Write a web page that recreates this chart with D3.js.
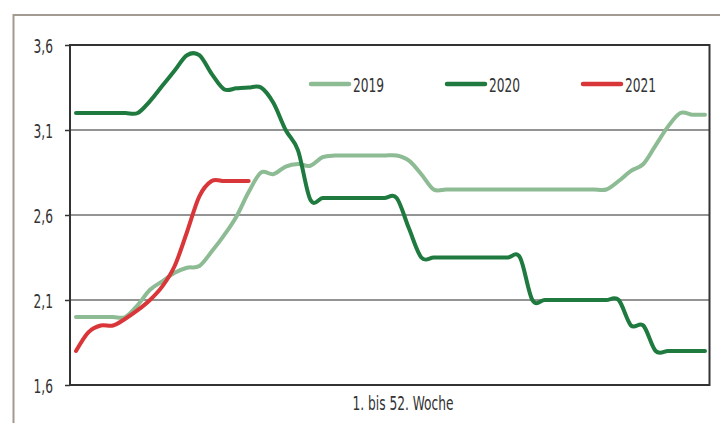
<!DOCTYPE html>
<html>
<head>
<meta charset="utf-8">
<script src="https://cdn.jsdelivr.net/npm/d3@7"></script>
<style>
	html, body { margin: 0; padding: 0; background: #fff; }
	svg { display: block; }
	text { font-family: "Liberation Sans Narrow", "DejaVu Sans Condensed", "Arial Narrow", sans-serif; fill: #333; }
</style>
</head>
<body>
<div id="container"></div>
<script>
// ==============
//	DATA
// ==============

var seriesNames = ["2019", "2020", "2021"];

var yTicks = [1.6, 2.1, 2.6, 3.1, 3.6];

// one value per week (1 .. 52)
var v2019 = [2.0, 2.0, 2.0, 2.0, 2.0, 2.07, 2.16, 2.21, 2.26, 2.29,
	2.3, 2.385, 2.48, 2.59, 2.735, 2.85, 2.84, 2.885, 2.9, 2.89,
	2.94, 2.95, 2.95, 2.95, 2.95, 2.95, 2.95, 2.92, 2.84, 2.75,
	2.75, 2.75, 2.75, 2.75, 2.75, 2.75, 2.75, 2.75, 2.75, 2.75,
	2.75, 2.75, 2.75, 2.75, 2.8, 2.86, 2.9, 3.01, 3.12, 3.2,
	3.19, 3.19];

var v2020 = [3.2, 3.2, 3.2, 3.2, 3.2, 3.2, 3.27, 3.36, 3.45, 3.54,
	3.54, 3.43, 3.34, 3.345, 3.35, 3.35, 3.26, 3.1, 2.98, 2.69,
	2.7, 2.7, 2.7, 2.7, 2.7, 2.7, 2.7, 2.52, 2.35, 2.35,
	2.35, 2.35, 2.35, 2.35, 2.35, 2.35, 2.35, 2.1, 2.1, 2.1,
	2.1, 2.1, 2.1, 2.1, 2.1, 1.95, 1.95, 1.8, 1.8, 1.8,
	1.8, 1.8];

var v2021 = [1.8, 1.91, 1.95, 1.95, 1.99, 2.04, 2.1, 2.18, 2.3, 2.5,
	2.71, 2.8, 2.8, 2.8, 2.8];

var xLabel = "1. bis 52. Woche";

// ==============
//	OPTIONS
// ==============

var width = 720, height = 423,
	plot = {left: 70, right: 709.5, top: 45, bottom: 385},
	colSeries = ["#8dbb94", "#1f7a3f", "#d9363a"],
	colGrid = "#707070",
	colFrame = "#333",
	colOuter = "#a39a92",
	narrow = 0.68; // horizontal squeeze for the condensed look

var x = d3.scaleLinear().domain([1, 52]).range([76, 705]);
var y = d3.scaleLinear().domain([1.6, 3.6]).range([plot.bottom, plot.top]);

var svg = d3.select("#container").append("svg")
	.attr("width", width)
	.attr("height", height);

// === outer frame
svg.append("path")
	.attr("d", "M13.5," + height + "V15H" + width)
	.attr("fill", "none")
	.attr("stroke", colOuter)
	.attr("stroke-width", 2);

// === grid
svg.append("g")
	.selectAll("line")
		.data(yTicks.slice(1, -1))
		.join("line")
		.attr("x1", plot.left)
		.attr("x2", plot.right)
		.attr("y1", d => y(d))
		.attr("y2", d => y(d))
		.attr("stroke", colGrid)
		.attr("stroke-width", 1.5);

// === y axis
var yAxis = svg.append("g")
	.attr("transform", "translate(" + plot.left + ",0)")
	.call(d3.axisLeft(y).tickValues(yTicks).tickSize(5).tickPadding(0)
		.tickFormat(d => d3.format(".1f")(d).replace(".", ",")));

yAxis.select(".domain").remove();
yAxis.selectAll("line").attr("stroke", colFrame).attr("stroke-width", 1.5);
yAxis.selectAll("text")
	.attr("x", null)
	.attr("dy", null)
	.attr("fill", "#333")
	.style("font-size", "20px")
	.attr("transform", "translate(-17,7.5) scale(" + narrow + ",1)");

// === plot frame
svg.append("rect")
	.attr("x", plot.left)
	.attr("y", plot.top)
	.attr("width", plot.right - plot.left)
	.attr("height", plot.bottom - plot.top)
	.attr("fill", "none")
	.attr("stroke", colFrame)
	.attr("stroke-width", 2);

// === lines
var line = d3.line()
	.x((d, i) => x(i + 1))
	.y(d => y(d))
	.curve(d3.curveCardinal.tension(0));

svg.append("g")
	.attr("fill", "none")
	.attr("stroke-width", 4)
	.attr("stroke-linecap", "round")
	.attr("stroke-linejoin", "round")
	.selectAll("path")
		.data([v2019, v2020, v2021])
		.join("path")
		.attr("d", line)
		.attr("stroke", (d, i) => colSeries[i]);

// === legend
var legend = svg.append("g")
	.selectAll("g")
		.data(seriesNames)
		.join("g")
		.attr("transform", (d, i) => "translate(" + (311 + i * 136) + ",84)");

legend.append("line")
	.attr("x1", 0)
	.attr("x2", 38)
	.attr("stroke", (d, i) => colSeries[i])
	.attr("stroke-width", 4.5)
	.attr("stroke-linecap", "round");

legend.append("text")
	.attr("transform", "translate(42,7.7) scale(" + narrow + ",1)")
	.style("font-size", "20px")
	.text(d => d);

// === x label
svg.append("text")
	.attr("transform", "translate(403,410) scale(" + narrow + ",1)")
	.attr("text-anchor", "middle")
	.style("font-size", "20px")
	.text(xLabel);
</script>
</body>
</html>
